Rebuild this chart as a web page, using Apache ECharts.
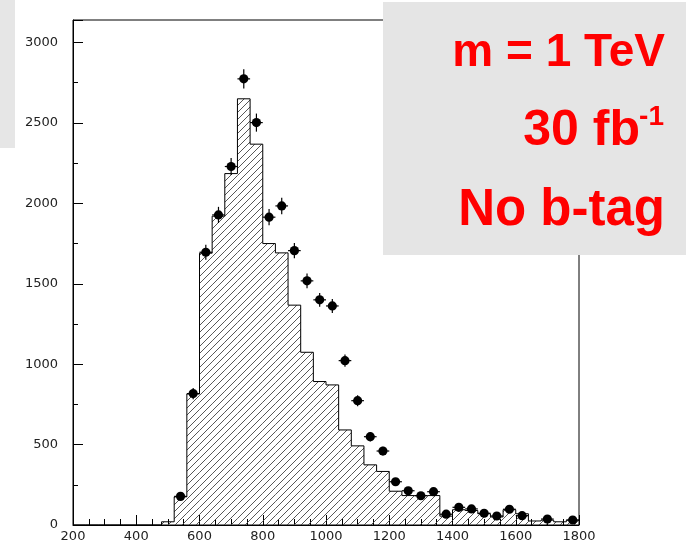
<!DOCTYPE html>
<html>
<head>
<meta charset="utf-8">
<script src="https://cdn.jsdelivr.net/npm/echarts@6/dist/echarts.min.js"></script>
<style>
html,body{margin:0;padding:0;background:#fff;}
#main{width:689px;height:548px;}
</style>
</head>
<body>
<div id="main"></div>
<script>
// ---- data ----
const binLow = [200,240,280,320,360,400,440,480,520,560,600,640,680,720,760,800,840,880,920,960,1000,1040,1080,1120,1160,1200,1240,1280,1320,1360,1400,1440,1480,1520,1560,1600,1640,1680,1720,1760];
const binWidth = 40;
const histValues = [0,0,0,0,0,0,0,20,175,815,1690,1920,2185,2650,2368,1750,1692,1367,1074,892,871,591,492,374,333,210,183,183,183,55,95,90,70,50,95,70,25,30,20,30];
const pointX = [540,580,620,660,700,740,780,820,860,900,940,980,1020,1060,1100,1140,1180,1220,1260,1300,1340,1380,1420,1460,1500,1540,1580,1620,1700,1780];
const pointY = [178,817,1696,1928,2229,2774,2502,1914,1984,1706,1518,1400,1362,1022,773,549,460,269,213,182,207,67,110,100,73,56,98,58,37,31];
const pointErr = [13,29,41,44,47,53,50,44,45,41,39,37,37,32,28,23,21,16,15,13,14,8,10,10,9,7,10,8,6,6];
const xTicks = {min:200, max:1800, step:200};
const yTicks = {min:0, max:3140, step:500};

// hatch pattern
function makeHatch(){
  const s = 7;
  const c = document.createElement('canvas');
  c.width = s; c.height = s;
  const g = c.getContext('2d');
  g.strokeStyle = '#444';
  g.lineWidth = 0.9;
  g.beginPath();
  g.moveTo(-1, s+1); g.lineTo(s+1, -1);
  g.moveTo(-1-s, s+1); g.lineTo(1, -1);
  g.moveTo(s-1, 2*s+1); g.lineTo(2*s+1, s-1);
  g.stroke();
  return c;
}
const hatch = makeHatch();

const histData = binLow.map((x, i) => [x, x + binWidth, histValues[i], i > 0 ? histValues[i-1] : 0]);
const pointData = pointX.map((x, i) => [x, pointY[i], pointErr[i]]);

const chart = echarts.init(document.getElementById('main'), null, {renderer:'canvas'});
const labelFont = {fontFamily:'DejaVu Sans', fontSize:13, color:'#222', formatter:function(v){return String(v);}};

chart.setOption({
  animation:false,
  backgroundColor:'#fff',
  grid:{left:73, right:110, top:20, bottom:23, show:true, borderColor:'#000', borderWidth:1, containLabel:false},
  xAxis:{
    type:'value', min:xTicks.min, max:xTicks.max, interval:xTicks.step,
    axisLine:{show:true, lineStyle:{color:'#000', width:1}},
    axisTick:{show:true, inside:true, length:10, lineStyle:{color:'#000'}},
    minorTick:{show:true, splitNumber:4, length:6, lineStyle:{color:'#000'}},
    splitLine:{show:false},
    axisLabel:Object.assign({margin:5}, labelFont)
  },
  yAxis:{
    type:'value', min:yTicks.min, max:yTicks.max, interval:yTicks.step,
    axisLine:{show:true, lineStyle:{color:'#000', width:1}},
    axisTick:{show:true, inside:true, length:10, lineStyle:{color:'#000'}},
    minorTick:{show:true, splitNumber:2, length:5, lineStyle:{color:'#000'}},
    splitLine:{show:false},
    axisLabel:Object.assign({margin:15, showMaxLabel:false}, labelFont)
  },
  series:[
    {
      type:'custom',
      data:histData,
      clip:true,
      z:2,
      renderItem:function(params, api){
        const x0 = api.value(0), x1 = api.value(1), v = api.value(2), pv = api.value(3);
        const pBase = api.coord([x0, 0]);
        const pTop = api.coord([x1, v]);
        const pPrev = api.coord([x0, pv]);
        const children = [];
        if (v > 0) {
          children.push({
            type:'rect',
            shape:{x:pBase[0], y:pTop[1], width:pTop[0]-pBase[0], height:pBase[1]-pTop[1]},
            style:{fill:{image:hatch, repeat:'repeat'}, stroke:null}
          });
        }
        children.push({
          type:'polyline',
          shape:{points:[[pBase[0], pPrev[1]], [pBase[0], pTop[1]], [pTop[0], pTop[1]]]},
          style:{stroke:'#000', lineWidth:1, fill:null}
        });
        return {type:'group', children:children};
      }
    },
    {
      type:'custom',
      data:pointData,
      clip:false,
      z:3,
      renderItem:function(params, api){
        const x = api.value(0), y = api.value(1), e = api.value(2);
        const c = api.coord([x, y]);
        const t = api.coord([x, y + e]);
        const b = api.coord([x, y - e]);
        const l = api.coord([x - binWidth/2, y]);
        const r = api.coord([x + binWidth/2, y]);
        return {type:'group', children:[
          {type:'line', shape:{x1:c[0], y1:t[1]-1, x2:c[0], y2:b[1]+1}, style:{stroke:'#000', lineWidth:1.2}},
          {type:'line', shape:{x1:l[0], y1:c[1], x2:r[0], y2:c[1]}, style:{stroke:'#000', lineWidth:1.2}},
          {type:'circle', shape:{cx:c[0], cy:c[1], r:4.6}, style:{fill:'#000'}}
        ]};
      }
    }
  ],
  graphic:[
    {type:'rect', z:100, shape:{x:0, y:0, width:15, height:148}, style:{fill:'#e6e6e6'}},
    {type:'rect', z:100, shape:{x:383, y:2, width:303, height:253}, style:{fill:'#e5e5e5'}},
    {type:'text', z:101, style:{text:'m = 1 TeV', x:665, y:53, textAlign:'right', textVerticalAlign:'middle', fill:'#ff0000', font:'bold 46px "Liberation Sans"'}},
    {type:'text', z:101, style:{text:'30 fb', x:640, y:131, textAlign:'right', textVerticalAlign:'middle', fill:'#ff0000', font:'bold 50px "Liberation Sans"'}},
    {type:'text', z:101, style:{text:'-1', x:664, y:117, textAlign:'right', textVerticalAlign:'middle', fill:'#ff0000', font:'bold 28px "Liberation Sans"'}},
    {type:'text', z:101, style:{text:'No b-tag', x:665, y:211, textAlign:'right', textVerticalAlign:'middle', fill:'#ff0000', font:'bold 51px "Liberation Sans"'}}
  ]
});
</script>
</body>
</html>
